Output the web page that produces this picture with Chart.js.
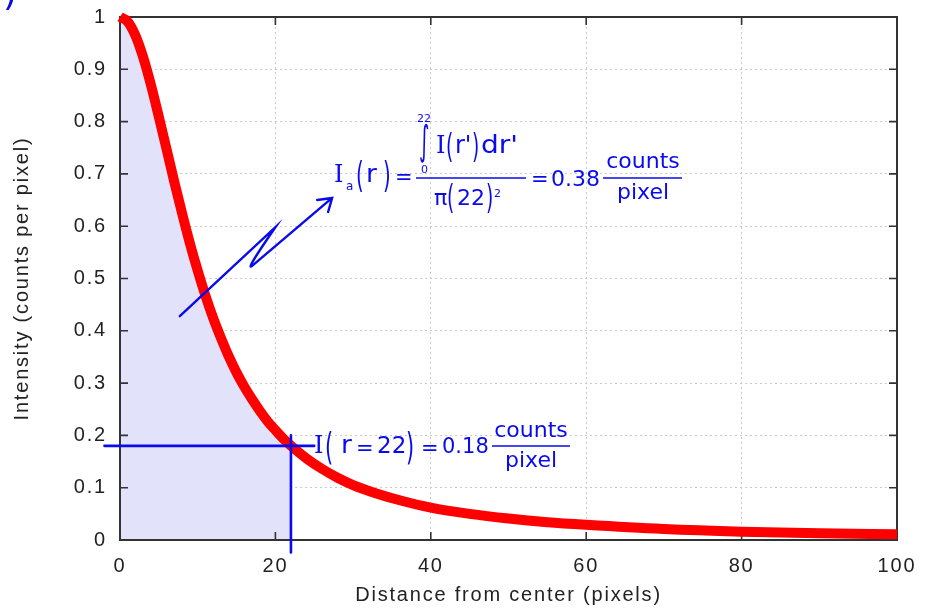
<!DOCTYPE html>
<html>
<head>
<meta charset="utf-8">
<script src="https://cdn.jsdelivr.net/npm/chart.js@4/dist/chart.umd.min.js"></script>
<style>
  html, body { margin: 0; padding: 0; background: #fff; }
</style>
</head>
<body>
<canvas id="myChart" width="934" height="612"></canvas>
<script>
// radial profile of the star (pixels from center -> counts per pixel)
const distance = [0, 1, 2, 3, 4, 5, 6, 7, 8, 9, 10, 11, 12, 13, 14, 15, 16, 17, 18, 19, 20, 21, 22,
  24, 26, 28, 30, 33, 36, 40, 45, 50, 55, 60, 70, 80, 90, 100];
const intensity = [1.000, 0.991, 0.964, 0.922, 0.869, 0.809, 0.747, 0.684, 0.624, 0.567, 0.515,
  0.467, 0.424, 0.386, 0.351, 0.320, 0.293, 0.269, 0.247, 0.227, 0.210, 0.194, 0.180,
  0.156, 0.136, 0.119, 0.105, 0.089, 0.076, 0.062, 0.050, 0.041, 0.034, 0.029, 0.021, 0.016, 0.013, 0.011];

const xTickValues = [0, 20, 40, 60, 80, 100];
const xTickLabels = ["0", "20", "40", "60", "80", "100"];
const yTickValues = [0, 0.1, 0.2, 0.3, 0.4, 0.5, 0.6, 0.7, 0.8, 0.9, 1];
const yTickLabels = ["0", "0.1", "0.2", "0.3", "0.4", "0.5", "0.6", "0.7", "0.8", "0.9", "1"];

const apertureRadius = 22;      // r used for the annotation
const apertureIntensity = 0.18; // I(r = 22)
const meanIntensity = "0.38";   // average inside the aperture

const BLUE = "#0a0aee";
const EQ_FONT = "'DejaVu Sans'";
const SERIF = "'DejaVu Serif'";

const profile = distance.map((d, i) => ({ x: d, y: intensity[i] }));
const shaded = profile.filter((p) => p.x <= apertureRadius);

// gnuplot style: widely spaced text everywhere on the axes
const spacedText = {
  id: "spacedText",
  beforeDraw(chart) {
    chart.ctx.letterSpacing = "1.8px";
  },
};

// box around the plot with ticks pointing inward
const frameTicks = {
  id: "frameTicks",
  beforeDatasetsDraw(chart) {
    const { ctx, chartArea: a, scales } = chart;
    const x = scales.x, y = scales.y;
    ctx.save();
    ctx.strokeStyle = "#333";
    ctx.lineWidth = 1.6;
    ctx.beginPath();
    xTickValues.forEach((v) => {
      const px = x.getPixelForValue(v);
      ctx.moveTo(px, a.bottom);
      ctx.lineTo(px, a.bottom - 8);
      ctx.moveTo(px, a.top);
      ctx.lineTo(px, a.top + 8);
    });
    yTickValues.forEach((v) => {
      const py = y.getPixelForValue(v);
      ctx.moveTo(a.left, py);
      ctx.lineTo(a.left + 8, py);
      ctx.moveTo(a.right, py);
      ctx.lineTo(a.right - 8, py);
    });
    ctx.stroke();
    ctx.lineWidth = 2;
    ctx.strokeRect(a.left, a.top, a.right - a.left, a.bottom - a.top);
    ctx.restore();
  },
};

// text piece at x/baseline y, optionally stretched sideways by sx
function put(ctx, s, x, y, size, sx, family) {
  ctx.save();
  ctx.font = size + "px " + (family || EQ_FONT);
  ctx.translate(x, y);
  ctx.scale(sx || 1, 1);
  ctx.fillText(s, 0, 0);
  ctx.restore();
}

function hline(ctx, x0, x1, y, w) {
  ctx.lineWidth = w;
  ctx.beginPath();
  ctx.moveTo(x0, y);
  ctx.lineTo(x1, y);
  ctx.stroke();
}

// blue markers, arrow and the two formulas
const annotations = {
  id: "annotations",
  afterDatasetsDraw(chart) {
    const { ctx, scales } = chart;
    const X = (v) => scales.x.getPixelForValue(v);
    const Y = (v) => scales.y.getPixelForValue(v);
    ctx.save();
    ctx.letterSpacing = "0px";
    ctx.strokeStyle = BLUE;
    ctx.fillStyle = BLUE;
    ctx.lineCap = "round";

    // I(r = 22) cross-hair
    ctx.lineWidth = 2.6;
    ctx.beginPath();
    ctx.moveTo(X(-2), Y(apertureIntensity));
    ctx.lineTo(X(25), Y(apertureIntensity));
    ctx.moveTo(X(apertureRadius), Y(0.2));
    ctx.lineTo(X(apertureRadius), Y(-0.024));
    ctx.stroke();

    // zig-zag arrow pointing at the average formula
    const p0 = [X(7.7), Y(0.428)];
    const p1 = [X(20.0), Y(0.598)];
    const p2 = [X(16.6), Y(0.52)];
    const tip = [X(27.3), Y(0.654)];
    ctx.lineWidth = 2.4;
    ctx.beginPath();
    ctx.moveTo(p0[0], p0[1]);
    ctx.lineTo(p1[0], p1[1]);
    ctx.quadraticCurveTo(p2[0] - 6, p2[1] + 6, p2[0] + 4, p2[1] - 3);
    ctx.lineTo(tip[0], tip[1]);
    ctx.moveTo(tip[0] - 15, tip[1] + 2);
    ctx.lineTo(tip[0], tip[1]);
    ctx.lineTo(tip[0] - 4, tip[1] + 14);
    ctx.stroke();

    ctx.textAlign = "left";
    ctx.textBaseline = "alphabetic";
    ctx.lineCap = "butt";

    // I_a(r) = int_0^22 I(r')dr' / pi(22)^2 = 0.38 counts/pixel
    put(ctx, "I", 334, 182, 24, 1, SERIF);
    put(ctx, "a", 346, 190, 12);
    put(ctx, "(", 356, 187, 36, 0.55);
    put(ctx, "r", 366, 182, 24, 1.1);
    put(ctx, ")", 383, 187, 36, 0.55);
    put(ctx, "=", 395, 184, 21);
    put(ctx, "\u222B", 419, 154, 40, 0.5);
    put(ctx, "22", 417, 122, 11);
    put(ctx, "0", 421, 173, 11);
    put(ctx, "I", 436, 153, 24, 1, SERIF);
    put(ctx, "(", 446, 158, 34, 0.55);
    put(ctx, "r'", 455, 153, 24);
    put(ctx, ")", 472, 158, 34, 0.55);
    put(ctx, "dr'", 481, 153, 25, 1.12);
    hline(ctx, 416, 526, 178, 1.6);
    put(ctx, "\u03C0", 434, 205, 22);
    put(ctx, "(", 447, 209, 34, 0.55);
    put(ctx, "22", 457, 205, 22);
    put(ctx, ")", 486, 209, 34, 0.55);
    put(ctx, "2", 494, 197, 11);
    put(ctx, "=", 531, 186, 21);
    put(ctx, meanIntensity, 551, 186, 22);
    ctx.textAlign = "center";
    put(ctx, "counts", 643, 168, 22);
    put(ctx, "pixel", 643, 199, 22);
    hline(ctx, 603, 682, 178, 1.6);

    // I(r = 22) = 0.18 counts/pixel
    ctx.textAlign = "left";
    put(ctx, "I", 314, 453, 24, 1, SERIF);
    put(ctx, "(", 325, 459, 38, 0.55);
    put(ctx, "r", 341, 453, 24, 1.1);
    put(ctx, "=", 356, 455, 21);
    put(ctx, String(apertureRadius), 377, 453, 23);
    put(ctx, ")", 406, 459, 38, 0.55);
    put(ctx, "=", 421, 455, 21);
    put(ctx, apertureIntensity.toFixed(2), 442, 453, 21);
    ctx.textAlign = "center";
    put(ctx, "counts", 531, 437, 22);
    put(ctx, "pixel", 531, 467, 22);
    hline(ctx, 492, 570, 446, 1.6);

    // stray bracket of the panel label at the top-left corner
    ctx.textAlign = "left";
    put(ctx, ")", 3, 5, 36);
    ctx.restore();
  },
};

const axisFont = { family: "'Liberation Sans', Arial, sans-serif", size: 20 };

new Chart(document.getElementById("myChart"), {
  type: "line",
  data: {
    datasets: [
      {
        label: "profile",
        data: profile,
        borderColor: "#ff0000",
        borderWidth: 10,
        pointRadius: 0,
        cubicInterpolationMode: "monotone",
        fill: false,
        clip: 8,
      },
      {
        label: "aperture",
        data: shaded,
        borderWidth: 0,
        pointRadius: 0,
        cubicInterpolationMode: "monotone",
        backgroundColor: "rgb(226, 226, 250)",
        fill: "origin",
      },
    ],
  },
  options: {
    responsive: false,
    animation: false,
    layout: { padding: { top: 17, right: 37, left: 0, bottom: 0 } },
    plugins: {
      legend: { display: false },
      tooltip: { enabled: false },
      filler: { drawTime: "beforeDatasetsDraw" },
    },
    scales: {
      x: {
        type: "linear",
        min: 0,
        max: 100,
        afterBuildTicks: (s) => { s.ticks = xTickValues.map((v) => ({ value: v })); },
        afterFit: (s) => { s.height = 72; s.paddingLeft = 0; s.paddingRight = 0; },
        ticks: {
          color: "#222",
          font: axisFont,
          padding: 14,
          maxRotation: 0,
          callback: (v, i) => xTickLabels[i],
        },
        grid: { color: "#c9c9c9", lineWidth: 1, drawTicks: false },
        border: { display: false, dash: [2, 3] },
        title: {
          display: true,
          text: "Distance from center (pixels)",
          color: "#222",
          font: axisFont,
          padding: { top: 4, bottom: 5 },
        },
      },
      y: {
        type: "linear",
        min: 0,
        max: 1,
        afterBuildTicks: (s) => { s.ticks = yTickValues.map((v) => ({ value: v })); },
        afterFit: (s) => { s.width = 120; s.paddingTop = 0; s.paddingBottom = 0; },
        ticks: {
          color: "#222",
          font: axisFont,
          padding: 13,
          callback: (v, i) => yTickLabels[i],
        },
        grid: { color: "#c9c9c9", lineWidth: 1, drawTicks: false },
        border: { display: false, dash: [2, 3] },
        title: {
          display: true,
          text: "Intensity (counts per pixel)",
          color: "#222",
          font: axisFont,
          padding: { top: 10, bottom: 0 },
        },
      },
    },
  },
  plugins: [spacedText, frameTicks, annotations],
});
</script>
</body>
</html>
